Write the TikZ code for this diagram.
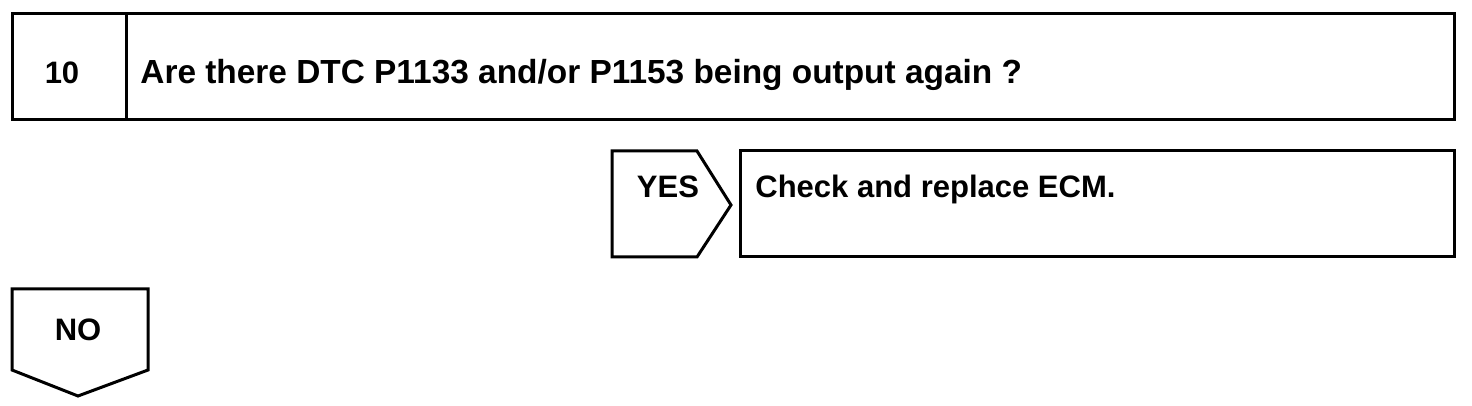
\documentclass[tikz,border=0pt]{standalone}
\usepackage{fontspec}
\setmainfont{Liberation Sans}

\tikzset{
  boxline/.style={line width=1.5pt, line join=miter},
  lbl/.style={font=\bfseries\fontsize{15.5}{18}\selectfont, inner sep=0pt},
  bigtxt/.style={font=\bfseries\fontsize{16.7}{19}\selectfont, inner sep=0pt}
}

\begin{document}
\begin{tikzpicture}[x=0.5pt,y=-0.5pt]
\useasboundingbox (0,0) rectangle (1472,406);

% ===== Step box =====
\draw[boxline] (12,14) rectangle (1454,120);
\draw[boxline] (126,14) -- (126,120);
\node[lbl, anchor=base] (num) at (62,84) {10};
\node[bigtxt, anchor=base west] (question) at (140,84) {Are there DTC P1133 and/or P1153 being output again ?};

% ===== YES branch =====
\draw[boxline] (612,151) -- (697,151) -- (731,205) -- (697,257) -- (612,257) -- cycle;
\node[lbl, anchor=base] (yes) at (668,198) {YES};
\draw[boxline] (740,151) rectangle (1454,257);
\node[lbl, anchor=base west] (action) at (755,198) {Check and replace ECM.};

% ===== NO branch =====
\draw[boxline] (12,289) -- (148,289) -- (148,370) -- (78,396) -- (12,370) -- cycle;
\node[lbl, anchor=base] (no) at (78,340) {NO};

\end{tikzpicture}
\end{document}
